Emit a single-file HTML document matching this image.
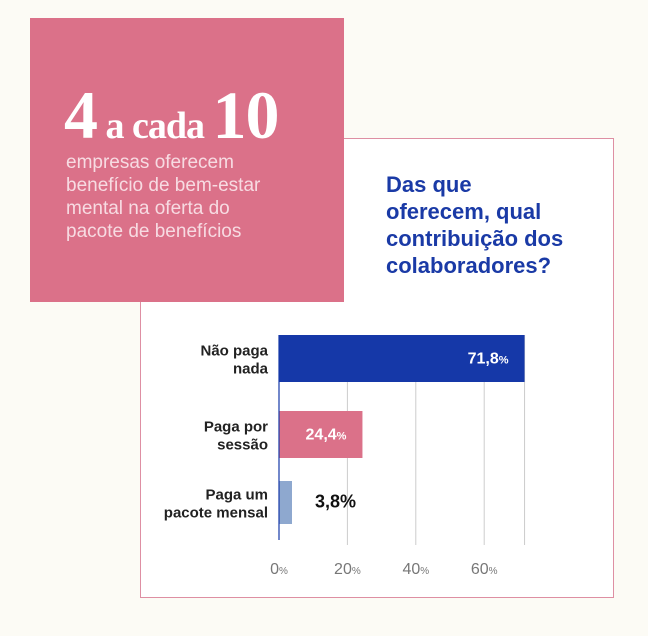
<!DOCTYPE html>
<html><head><meta charset="utf-8"><style>
body{margin:0;width:648px;height:636px;background:#fcfbf5;position:relative;overflow:hidden;font-family:"Liberation Sans",sans-serif}
.abs{position:absolute}
</style></head><body>
<div class="abs" style="left:140px;top:138px;width:474px;height:460px;background:#fff;border:1.5px solid #de8fa3;box-sizing:border-box"></div>
<div class="abs" style="left:30px;top:18px;width:314px;height:284px;background:#db7189"></div>
<div class="abs" style="left:64px;top:76px;color:#fff;font-family:'Liberation Serif',serif;font-weight:bold;white-space:nowrap;letter-spacing:-1px"><span style="font-size:68px">4</span><span style="font-size:38px"> a cada </span><span style="font-size:68px">10</span></div>
<div class="abs" style="left:66px;top:151px;color:#f7dbe2;font-size:19px;line-height:23px">empresas oferecem<br>benefício de bem-estar<br>mental na oferta do<br>pacote de benefícios</div>
<div class="abs" style="left:386px;top:171px;color:#1a3aa6;font-size:22px;font-weight:bold;line-height:27px">Das que<br>oferecem, qual<br>contribuição dos<br>colaboradores?</div>
<svg class="abs" style="left:0;top:0" width="648" height="636" id="chart"></svg>
<script>
const categories=[["Não paga","nada"],["Paga por","sessão"],["Paga um","pacote mensal"]];
const values=[71.8,24.4,3.8];
const valueLabels=["71,8","24,4","3,8"];
const ticks=[0,20,40,60];
const colors=["#1538a8","#db7189","#8ea8cf"];
const NS="http://www.w3.org/2000/svg";
const svg=document.getElementById('chart');
const x0=279,sc=3.42;
function X(v){return x0+v*sc;}
const barTop=[335,411,481],barH=[47,47,43];
function mk(t,a){const e=document.createElementNS(NS,t);for(const k in a)e.setAttribute(k,a[k]);svg.appendChild(e);return e;}
ticks.concat([values[0]]).forEach((t,i)=>{if(t===0)return;
 const l=mk('line',{x1:X(t),x2:X(t),y1:335,y2:545,stroke:'#ccc','stroke-width':1});
 
 
});
ticks.forEach(t=>{
 const tx=mk('text',{x:X(t),y:574,'text-anchor':'middle','font-size':16,fill:'#777'});
 
 
 tx.innerHTML=t+'<tspan font-size="10">%</tspan>';
});
values.forEach((v,i)=>{
 const r=mk('rect',{x:x0,y:barTop[i],width:X(v)-x0,height:barH[i],fill:colors[i]});
 
 
 const cy=barTop[i]+barH[i]/2;
 const t=mk('text',{y:cy+5,'font-size':16,'font-weight':'bold','text-anchor':'end',fill:'#fff'});
 
 
 if(X(v)-x0>60){t.setAttribute('x',X(v)-16);t.innerHTML=valueLabels[i]+'<tspan font-size="11">%</tspan>';}
 else{t.setAttribute('x',356);t.setAttribute('fill','#111');t.setAttribute('font-size',18);t.textContent=valueLabels[i]+'%';}
 categories[i].forEach((s,j)=>{
  const c=mk('text',{x:268,y:cy-3+j*18,'text-anchor':'end','font-size':15,'font-weight':'bold',fill:'#222'});
  
  
  c.textContent=s;
 });
});
const ax=mk('line',{x1:x0,x2:x0,y1:335,y2:540,stroke:'#1538a8','stroke-width':1.2});


</script>
</body></html>
